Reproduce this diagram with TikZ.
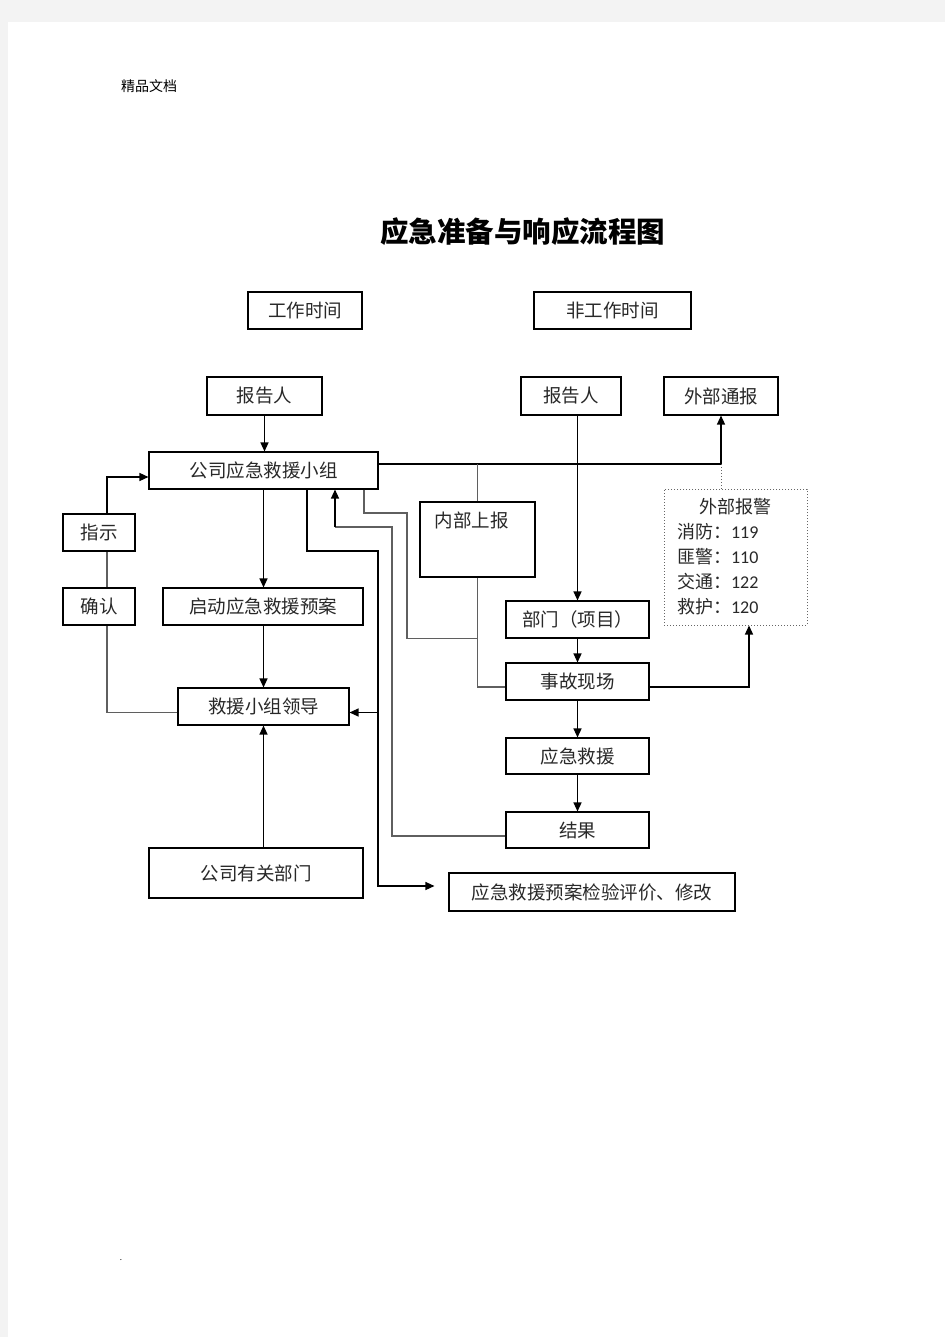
\documentclass[tikz,border=0pt]{standalone}
\usepackage{fontspec}
\setmainfont{Noto Sans CJK SC}
\newfontfamily\numfont{Carlito}
\usetikzlibrary{arrows.meta}
\definecolor{pageGray}{RGB}{243,243,243}
\definecolor{lineGray}{RGB}{95,95,95}
\definecolor{textGray}{RGB}{40,40,40}

\begin{document}
\begin{tikzpicture}[x=1pt, y=-1pt]
  % Styles
  \tikzstyle{box} = [rectangle, draw=black, line width=1.1pt, fill=white, inner sep=0pt, text=textGray, font=\fontsize{18.5}{22}\selectfont, minimum height=37pt]
  \tikzstyle{dotbox} = [rectangle, draw=black!60, dotted, line width=1pt, fill=white, inner xsep=13pt, inner ysep=0pt, text=textGray, font=\fontsize{18}{25}\selectfont, align=left, text width=117pt, minimum height=136pt]
  \tikzstyle{arrow} = [-{Triangle[length=9pt, width=8pt]}, line width=1.3pt, black]
  \tikzstyle{link} = [line width=1.3pt, lineGray]

  % Page
  \fill[pageGray] (0,0) rectangle (945,1337);
  \fill[white] (8,22) rectangle (945,1337);
  \useasboundingbox (0,0) rectangle (945,1337);
  \node[font=\fontsize{14}{16}\selectfont] (head) at (149,86) {精品文档};
  \node[font=\fontsize{8}{8}\selectfont] (dot) at (121,1260) {.};
  \node[font=\fontsize{28.5}{32}\selectfont\bfseries] (title) at (522.5,232) {应急准备与响应流程图};

  % Time nodes
  \node[box, minimum width=114pt] (work) at (305,310.5) {工作时间};
  \node[box, minimum width=157pt] (offwork) at (612.5,310.5) {非工作时间};

  % Left column
  \node[box, minimum width=115pt, minimum height=38pt] (rep1) at (264.5,396) {报告人};
  \node[box, minimum width=229pt] (group) at (263.5,470.5) {公司应急救援小组};
  \node[box, minimum width=72pt] (instruct) at (99,532.5) {指示};
  \node[box, minimum width=72pt] (confirm) at (99,606.5) {确认};
  \node[box, minimum width=200pt] (start) at (263,606.5) {启动应急救援预案};
  \node[box, minimum width=171pt] (leader) at (263.5,706.5) {救援小组领导};
  \node[box, minimum width=214pt, minimum height=50pt] (dept2) at (256,873) {公司有关部门};

  % Right column
  \node[box, minimum width=100pt, minimum height=38pt] (rep2) at (571,396) {报告人};
  \node[box, minimum width=114pt, minimum height=38pt] (extnotice) at (721,396) {外部通报};
  \node[box, minimum width=115pt, text height=25pt, text depth=50pt, minimum height=75pt] (inner) at (477.5,539.5) {内部上报\hbox to 12pt{}};
  \node[dotbox] (alarm) at (735.5,557) {\makebox[117pt]{外部报警}\\消防：{\numfont 119}\\匪警：{\numfont 110}\\交通：{\numfont 122}\\救护：{\numfont 120}};
  \node[box, minimum width=143pt] (dept) at (577.5,619.5) {部门（项目）};
  \node[box, minimum width=143pt] (scene) at (577.5,681.5) {事故现场};
  \node[box, minimum width=143pt, minimum height=36pt] (rescue) at (577.5,756) {应急救援};
  \node[box, minimum width=143pt, minimum height=36pt] (result) at (577.5,830) {结果};
  \node[box, minimum width=286pt, minimum height=38pt] (review) at (592,892) {应急救援预案检验评价、修改};

  % Bus coordinates
  \coordinate (busR) at (721,464);
  \coordinate (split) at (378,712.5);

  % Arrows
  \draw[arrow] (rep1.south) -- (rep1.south |- group.north);
  \draw[arrow] (group.south) -- (group.south |- start.north);
  \draw[arrow] (start.south -| group.south) -- (leader.north -| group.south);
  \draw[arrow] (dept2.north -| group.south) -- (leader.south -| group.south);
  \draw[link] ([yshift=-6pt]leader.west) -| ([xshift=8pt]confirm.south);
  \draw[link] ([xshift=8pt]confirm.north) -- ([xshift=8pt]instruct.south);
  \draw[arrow] ([xshift=8pt]instruct.north) |- ([yshift=-6.5pt]group.west);
  \draw[arrow] ([yshift=6.5pt]group.east) -- (busR) -- (extnotice.south);
  \draw[link] (inner.north) -- (inner.north |- busR);
  \draw[arrow] (rep2.south -| dept.north) -- (dept.north);
  \draw[black!60, dotted, line width=1pt] (alarm.north -| busR) -- (busR);
  \draw[arrow] (dept) -- (scene);
  \draw[arrow] (scene) -- (rescue);
  \draw[arrow] (rescue) -- (result);
  \draw[arrow] ([yshift=-5.5pt]scene.east) -| ([xshift=13.5pt]alarm.south);
  \draw[link] (inner.south) |- ([yshift=-5.5pt]scene.west);
  \draw[link] ([xshift=100.5pt]group.south) |- (407,513) |- (inner.south |- dept.south);
  \draw[link] ([yshift=-6pt]result.west) -| (392,527) -- (335,527);
  \draw[arrow] (335,527) -- ([xshift=71.5pt]group.south);
  \draw[arrow] ([xshift=43.5pt]group.south) |- (378,551) |- ([xshift=-14pt, yshift=6pt]review.west);
  \draw[arrow] (split) -- ([yshift=-6pt]leader.east);
\end{tikzpicture}
\end{document}
